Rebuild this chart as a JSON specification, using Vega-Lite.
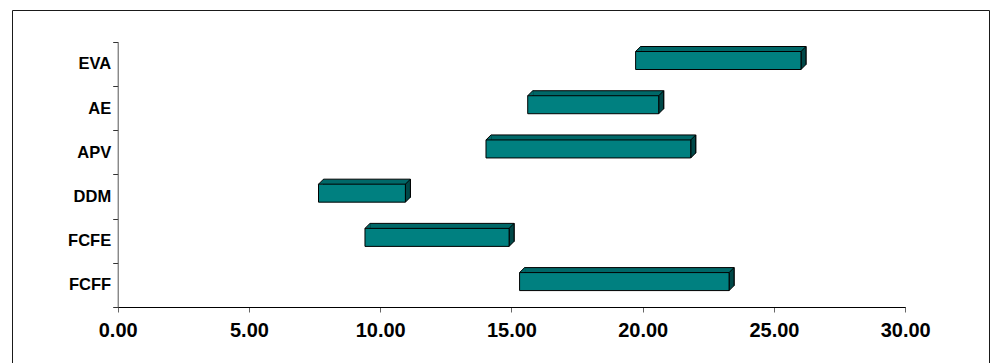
{
  "$schema": "https://vega.github.io/schema/vega-lite/v6.json",
  "width": 977,
  "height": 360,
  "autosize": {"type": "none"},
  "padding": {"left": 12, "top": 10, "right": 1, "bottom": -7},
  "background": "white",
  "config": {
    "view": {"stroke": "#1a1a1a", "strokeWidth": 1},
    "font": "Liberation Sans",
    "axisX": {
      "title": null,
      "orient": "bottom",
      "offset": -63,
      "format": ".2f",
      "grid": false,
      "domainColor": "#000000",
      "tickColor": "#666666",
      "tickSize": 5,
      "labelFont": "Liberation Sans Narrow, Liberation Sans",
      "labelFontSize": 20,
      "labelFontWeight": "bold",
      "labelColor": "#000000",
      "labelPadding": 8,
      "labelFlush": false,
      "labelOverlap": false
    }
  },
  "data": {
    "values": [
      {"method": "EVA", "low": 19.73, "high": 26.03},
      {"method": "AE", "low": 15.62, "high": 20.61},
      {"method": "APV", "low": 14.03, "high": 21.83},
      {"method": "DDM", "low": 7.65, "high": 10.96},
      {"method": "FCFE", "low": 9.42, "high": 14.91},
      {"method": "FCFF", "low": 15.31, "high": 23.29}
    ]
  },
  "encoding": {
    "y": {
      "field": "method",
      "type": "nominal",
      "scale": {
        "domain": ["EVA", "AE", "APV", "DDM", "FCFE", "FCFF"],
        "range": [31.7, 297],
        "paddingInner": 0,
        "paddingOuter": 0
      },
      "axis": {
        "title": null,
        "orient": "left",
        "offset": -105.7,
        "grid": false,
        "domainColor": "#555555",
        "tickColor": "#333333",
        "tickSize": 5,
        "tickBand": "extent",
        "labelFont": "Liberation Sans",
        "labelFontSize": 16.5,
        "labelFontWeight": "bold",
        "labelColor": "#000000",
        "labelPadding": 2
      }
    }
  },
  "layer": [
    {
      "mark": {"type": "bar", "height": 18, "yOffset": -8.3, "xOffset": 5, "x2Offset": 5, "fill": "#006868", "stroke": "#000000", "strokeWidth": 1},
      "encoding": {
        "x": {"field": "low", "type": "quantitative", "title": null, "axis": {"values": [0, 5, 10, 15, 20, 25, 30]}, "scale": {"domain": [0, 30], "range": [105.7, 893.2], "nice": false, "zero": false}},
        "x2": {"field": "high"}
      }
    },
    {
      "mark": {"type": "point", "shape": "M0,-12.3L5,-17.3L5,0.7L0,5.7Z", "size": 4, "filled": true, "fill": "#004848", "stroke": "#000000", "strokeWidth": 1, "opacity": 1},
      "encoding": {
        "x": {"field": "high", "type": "quantitative", "title": null, "axis": {"values": [0, 5, 10, 15, 20, 25, 30]}, "scale": {"domain": [0, 30], "range": [105.7, 893.2], "nice": false, "zero": false}}
      }
    },
    {
      "mark": {"type": "point", "shape": "M0,-12.3L5,-17.3L5.6,-17.3L5.6,-12.3Z", "size": 4, "filled": true, "fill": "#006868", "strokeWidth": 0, "opacity": 1},
      "encoding": {
        "x": {"field": "low", "type": "quantitative", "title": null, "axis": {"values": [0, 5, 10, 15, 20, 25, 30]}, "scale": {"domain": [0, 30], "range": [105.7, 893.2], "nice": false, "zero": false}}
      }
    },
    {
      "mark": {"type": "point", "shape": "M0,-12.3L5,-17.3", "size": 4, "filled": false, "stroke": "#000000", "strokeWidth": 1, "opacity": 1},
      "encoding": {
        "x": {"field": "low", "type": "quantitative", "title": null, "axis": {"values": [0, 5, 10, 15, 20, 25, 30]}, "scale": {"domain": [0, 30], "range": [105.7, 893.2], "nice": false, "zero": false}}
      }
    },
    {
      "mark": {"type": "bar", "height": 18, "yOffset": -3.3, "fill": "#008080", "stroke": "#000000", "strokeWidth": 1},
      "encoding": {
        "x": {"field": "low", "type": "quantitative", "title": null, "axis": {"values": [0, 5, 10, 15, 20, 25, 30]}, "scale": {"domain": [0, 30], "range": [105.7, 893.2], "nice": false, "zero": false}},
        "x2": {"field": "high"}
      }
    }
  ]
}
